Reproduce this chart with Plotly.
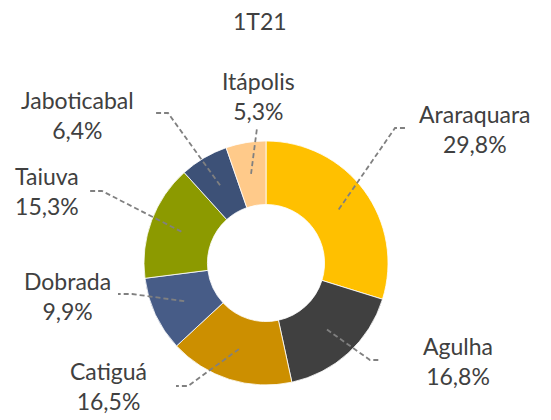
import math
import plotly.graph_objects as go

# ---- data ----
labels = ["Araraquara", "Agulha", "Catiguá", "Dobrada", "Taiuva", "Jaboticabal", "Itápolis"]
values = [29.8, 16.8, 16.5, 9.9, 15.3, 6.4, 5.3]
title_text = "1T21"

# ---- style ----
colors = ["#FFC000", "#404040", "#CC8F00", "#475C87", "#8C9A00", "#3D5177", "#FFCA8A"]
W, H = 551, 420
CX, CY, R_OUT, HOLE = 266, 263, 122, 0.48
TEXT_COLOR = "#404040"
FONT = "Lato"
FSIZE = 23

# label layout (pixel positions): elbow, end of leader, label centre
label_layout = {
    "Araraquara": dict(elbow=(395, 128), end=(407, 128), text=(475, 129)),
    "Agulha":     dict(elbow=(370, 360), end=(380, 360), text=(458, 361)),
    "Catiguá":    dict(elbow=(188, 386), end=(176, 386), text=(108, 386)),
    "Dobrada":    dict(elbow=(132, 294), end=(118, 294), text=(67, 296)),
    "Taiuva":     dict(elbow=(102, 191), end=(90, 191), text=(47, 191)),
    "Jaboticabal": dict(elbow=(168, 113), end=(156, 113), text=(77, 115)),
    "Itápolis":   dict(elbow=(257, 128), end=(257, 128), text=(258, 96)),
}

def px(x, y):
    return x / W, 1 - y / H

fig = go.Figure()
fig.add_trace(go.Pie(
    labels=labels, values=values, hole=HOLE, sort=False, direction="clockwise",
    rotation=0, marker=dict(colors=colors, line=dict(color="white", width=0.8)),
    textinfo="none", hoverinfo="label+percent", showlegend=False,
    domain=dict(x=[(CX - R_OUT) / W, (CX + R_OUT) / W],
                y=[1 - (CY + R_OUT) / H, 1 - (CY - R_OUT) / H]),
))

total = sum(values)
cum = 0.0
shapes, annotations = [], []
r_mid = R_OUT * (1 + HOLE) / 2
for lab, v in zip(labels, values):
    mid = (cum + v / 2) / total * 2 * math.pi
    cum += v
    sx = CX + r_mid * math.sin(mid)
    sy = CY - r_mid * math.cos(mid)
    lay = label_layout[lab]
    p0 = px(sx, sy); p1 = px(*lay["elbow"]); p2 = px(*lay["end"])
    shapes.append(dict(type="path", xref="paper", yref="paper",
                       path=f"M {p0[0]},{p0[1]} L {p1[0]},{p1[1]} L {p2[0]},{p2[1]}",
                       line=dict(color="#808080", width=1.8, dash="5px,3px")))
    tx, ty = px(*lay["text"])
    pct = f"{v:.1f}".replace(".", ",") + "%"
    annotations.append(dict(xref="paper", yref="paper", x=tx, y=ty, text=f"{lab}<br>{pct}",
                            showarrow=False, xanchor="center", yanchor="middle",
                            font=dict(size=FSIZE, color=TEXT_COLOR, family=FONT)))

annotations.append(dict(xref="paper", yref="paper", x=260 / W, y=1 - 21 / H, text=title_text,
                        showarrow=False, xanchor="center", yanchor="middle",
                        font=dict(size=FSIZE, color=TEXT_COLOR, family=FONT)))

fig.update_layout(width=W, height=H, margin=dict(l=0, r=0, t=0, b=0),
                  paper_bgcolor="white", plot_bgcolor="white",
                  shapes=shapes, annotations=annotations)
fig.write_html("out.html", config={"displayModeBar": False},
               post_script="document.body.style.margin='0';")
